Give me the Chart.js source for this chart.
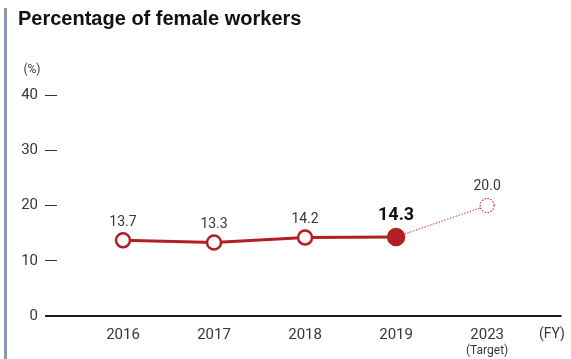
<!DOCTYPE html>
<html>
<head>
<meta charset="utf-8">
<script src="https://cdn.jsdelivr.net/npm/chart.js@4/dist/chart.umd.min.js"></script>
<style>
  html, body { margin: 0; padding: 0; background: #fff; }
  canvas { display: block; }
</style>
</head>
<body>
<canvas id="c" width="571" height="359"></canvas>
<script>
// Fiscal years shown on the horizontal axis
const categories = ['2016', '2017', '2018', '2019', '2023'];
// Actual share of female workers (%)
const actual = [13.7, 13.3, 14.2, 14.3, null];
// Path from the latest result to the FY2023 target (%)
const target = [null, null, null, 14.3, 20.0];
// Vertical axis ticks (%)
const yTicks = [0, 10, 20, 30, 40];

const RED = '#b11f24';
const RED_LIGHT = '#c9353b';
const TEXT = '#383838';
const FONT = 'Roboto, "Liberation Sans", Arial, sans-serif';

const toPoints = arr => arr.map((v, i) => ({ x: i, y: v }));

const decorations = {
  id: 'decorations',
  beforeDraw(chart) {
    const ctx = chart.ctx;
    ctx.save();
    // left accent bar
    ctx.fillStyle = '#8c95ae';
    ctx.fillRect(4, 8, 3, 351);
    // heading
    ctx.fillStyle = '#111';
    ctx.font = 'bold 20px "Liberation Sans", Arial, sans-serif';
    ctx.textBaseline = 'middle';
    ctx.textAlign = 'left';
    ctx.fillText('Percentage of female workers', 18, 19);
    // unit
    ctx.fillStyle = TEXT;
    ctx.font = '12px ' + FONT;
    ctx.textAlign = 'center';
    ctx.fillText('(%)', 32, 70);
    ctx.restore();
  },
  afterDraw(chart) {
    const ctx = chart.ctx;
    const x = chart.scales.x, y = chart.scales.y;
    const y0 = y.getPixelForValue(0);
    ctx.save();
    // baseline
    ctx.strokeStyle = '#1a1a1a';
    ctx.lineWidth = 2;
    ctx.beginPath();
    ctx.moveTo(45, y0);
    ctx.lineTo(x.right, y0);
    ctx.stroke();
    // axis notes
    ctx.fillStyle = TEXT;
    ctx.textAlign = 'center';
    ctx.textBaseline = 'middle';
    ctx.font = '14px ' + FONT;
    ctx.fillText('(FY)', 552, 334);
    ctx.font = '12px ' + FONT;
    ctx.fillText('(Target)', x.getPixelForValue(4), 351);

    // target marker: dotted open circle
    const tMeta = chart.getDatasetMeta(1);
    const tp = tMeta.data[4];
    ctx.beginPath();
    ctx.arc(tp.x, tp.y, 7, 0, Math.PI * 2);
    ctx.fillStyle = '#fff';
    ctx.fill();
    ctx.setLineDash([1.5, 1.5]);
    ctx.lineWidth = 1.2;
    ctx.strokeStyle = RED_LIGHT;
    ctx.stroke();
    ctx.setLineDash([]);

    // value labels
    const aMeta = chart.getDatasetMeta(0);
    actual.forEach((v, i) => {
      if (v == null) return;
      const p = aMeta.data[i];
      const latest = i === 3;
      ctx.font = (latest ? 'bold 18px ' : '14px ') + FONT;
      ctx.fillStyle = latest ? '#111' : TEXT;
      ctx.fillText(v.toFixed(1), p.x, p.y - (latest ? 21 : 18));
    });
    ctx.font = '14px ' + FONT;
    ctx.fillStyle = TEXT;
    ctx.fillText(target[4].toFixed(1), tp.x, tp.y - 19.5);
    ctx.restore();
  }
};

new Chart(document.getElementById('c'), {
  type: 'line',
  data: {
    datasets: [
      {
        data: toPoints(actual),
        borderColor: RED,
        borderWidth: 3,
        pointRadius: [7, 7, 7, 8, 0],
        pointBorderWidth: 2.5,
        pointBorderColor: RED,
        pointBackgroundColor: ['#fff', '#fff', '#fff', RED, '#fff'],
        spanGaps: false
      },
      {
        data: toPoints(target),
        borderColor: RED_LIGHT,
        borderWidth: 1,
        borderDash: [1.5, 1.5],
        pointRadius: 0
      }
    ]
  },
  options: {
    responsive: false,
    animation: false,
    events: [],
    layout: { padding: { top: 95, right: 8, left: 0, bottom: 0 } },
    plugins: { legend: { display: false }, tooltip: { enabled: false } },
    scales: {
      x: {
        type: 'linear',
        min: -0.725,
        max: 4.817,
        afterBuildTicks(scale) { scale.ticks = categories.map((c, i) => ({ value: i })); },
        afterFit(scale) { scale.height = 43; },
        grid: { display: false, drawTicks: false },
        border: { display: false },
        ticks: {
          padding: 10,
          color: TEXT,
          font: { family: FONT, size: 15 },
          callback: v => categories[v]
        }
      },
      y: {
        min: 0,
        max: 40,
        afterBuildTicks(scale) { scale.ticks = yTicks.map(v => ({ value: v })); },
        afterFit(scale) { scale.width = 57; },
        grid: { drawOnChartArea: false, tickLength: 12, color: '#333', lineWidth: 1 },
        border: { display: false },
        ticks: {
          padding: 7,
          color: TEXT,
          font: { family: FONT, size: 15 }
        }
      }
    }
  },
  plugins: [decorations]
});
</script>
</body>
</html>
